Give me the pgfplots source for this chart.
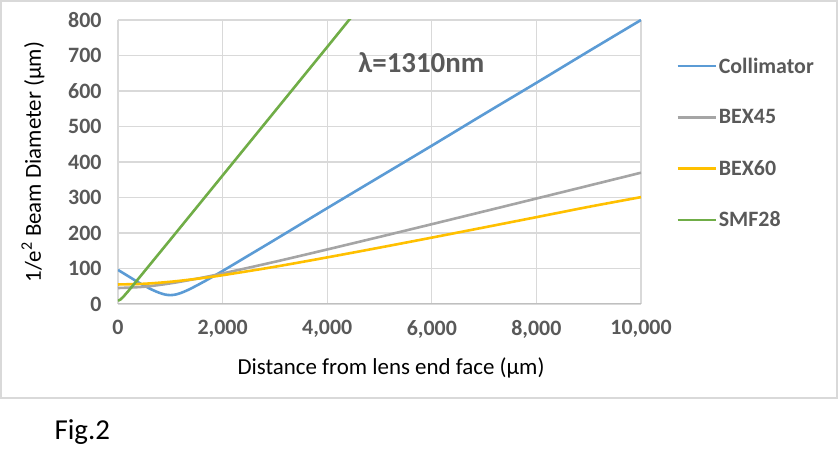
\documentclass[border=0pt]{standalone}
\usepackage{fontspec}
\setmainfont{Carlito}
\usepackage{pgfplots}
\pgfplotsset{compat=1.18}
\definecolor{cblue}{HTML}{5B9BD5}
\definecolor{cgray}{HTML}{A5A5A5}
\definecolor{cgold}{HTML}{FFC000}
\definecolor{cgreen}{HTML}{70AD47}
\definecolor{gridc}{HTML}{D9D9D9}
\definecolor{axisc}{HTML}{BFBFBF}
\definecolor{tickc}{HTML}{595959}
\begin{document}
\begin{tikzpicture}[x=1bp,y=1bp]
\useasboundingbox (-118,-158) rectangle (721,304);
\draw[color=gridc, line width=1.5bp] (-117,303) rectangle (719,-94);
\begin{axis}[
  at={(0,0)}, anchor=south west,
  width=523bp, height=284bp, scale only axis,
  xmin=0, xmax=10000, ymin=0, ymax=800,
  xtick={0,2000,4000,6000,8000,10000},
  ytick={0,100,200,300,400,500,600,700,800},
  grid=major, major grid style={color=gridc, line width=1.2bp},
  axis line style={draw=none}, tick style={draw=none},
  ticklabel style={font=\fontsize{22}{26}\selectfont\bfseries, text=tickc},
  yticklabel style={xshift=-13bp},
  xticklabel style={yshift=-13bp},
  /pgf/number format/assume math mode=true,
  /pgf/number format/1000 sep={,},
  scaled ticks=false,
  xlabel={Distance from lens end face (µm)},
  ylabel={1/e\textsuperscript{2} Beam Diameter (µm)},
  label style={font=\fontsize{23}{27}\selectfont},
  xlabel style={at={(axis description cs:0.522,-0.2254)}, anchor=center},
  ylabel style={at={(axis description cs:-0.1625,0.5)}, anchor=center, rotate=0},
  legend style={draw=none, fill=none, at={(axis description cs:1.067,0.875)}, anchor=north west,
    font=\fontsize{22}{26}\selectfont\bfseries, text=tickc, row sep=31bp, inner sep=0pt},
  legend cell align=left,
  legend image code/.code={\draw[#1, line width=2.6bp] (0bp,0bp) -- (38bp,0bp);},
  clip=true,
]
\addplot[cblue, line width=2.6bp, smooth] coordinates {
(0,96) (200,78) (400,60) (600,44) (700,37) (800,31) (900,26.6) (1000,25) (1100,26.6) (1200,31) (1300,37) (1400,44) (1600,59.5) (1800,76) (2000,93) (2500,137) (3000,181) (4000,270) (5000,358) (6000,446) (7000,535) (8000,623) (9000,712) (10000,800)};
\addlegendentry{Collimator}
\addplot[cgray, line width=2.6bp, smooth] coordinates {
(0,45) (500,48.6) (1000,58.1) (1500,71.1) (2000,86.1) (3000,118.9) (4000,153.6) (5000,189) (6000,224.8) (7000,260.9) (8000,297.1) (9000,333.4) (10000,369.8)};
\addlegendentry{BEX45}
\addplot[cgold, line width=2.6bp, smooth] coordinates {
(0,55) (500,57) (1000,62.6) (1500,70.9) (2000,81.1) (3000,104.9) (4000,131.3) (5000,158.8) (6000,187) (7000,215.7) (8000,244.6) (9000,273.7) (10000,301)};
\addlegendentry{BEX60}
\addplot[cgreen, line width=2.6bp] coordinates {
(0,9) (50,13) (100,20) (200,37) (500,91) (1000,181) (2000,362) (3000,543) (4000,724) (4500,815)};
\addlegendentry{SMF28}
\draw[color=axisc, line width=1.5bp] (axis cs:0,0) -- (axis cs:10000,0);
\node[font=\fontsize{29}{33}\selectfont\bfseries, text=tickc] at (axis cs:5800,680) {λ=1310nm};
\end{axis}
\node[anchor=west, font=\fontsize{29}{32}\selectfont] at (-67,-128) {Fig.2};
\end{tikzpicture}
\end{document}
